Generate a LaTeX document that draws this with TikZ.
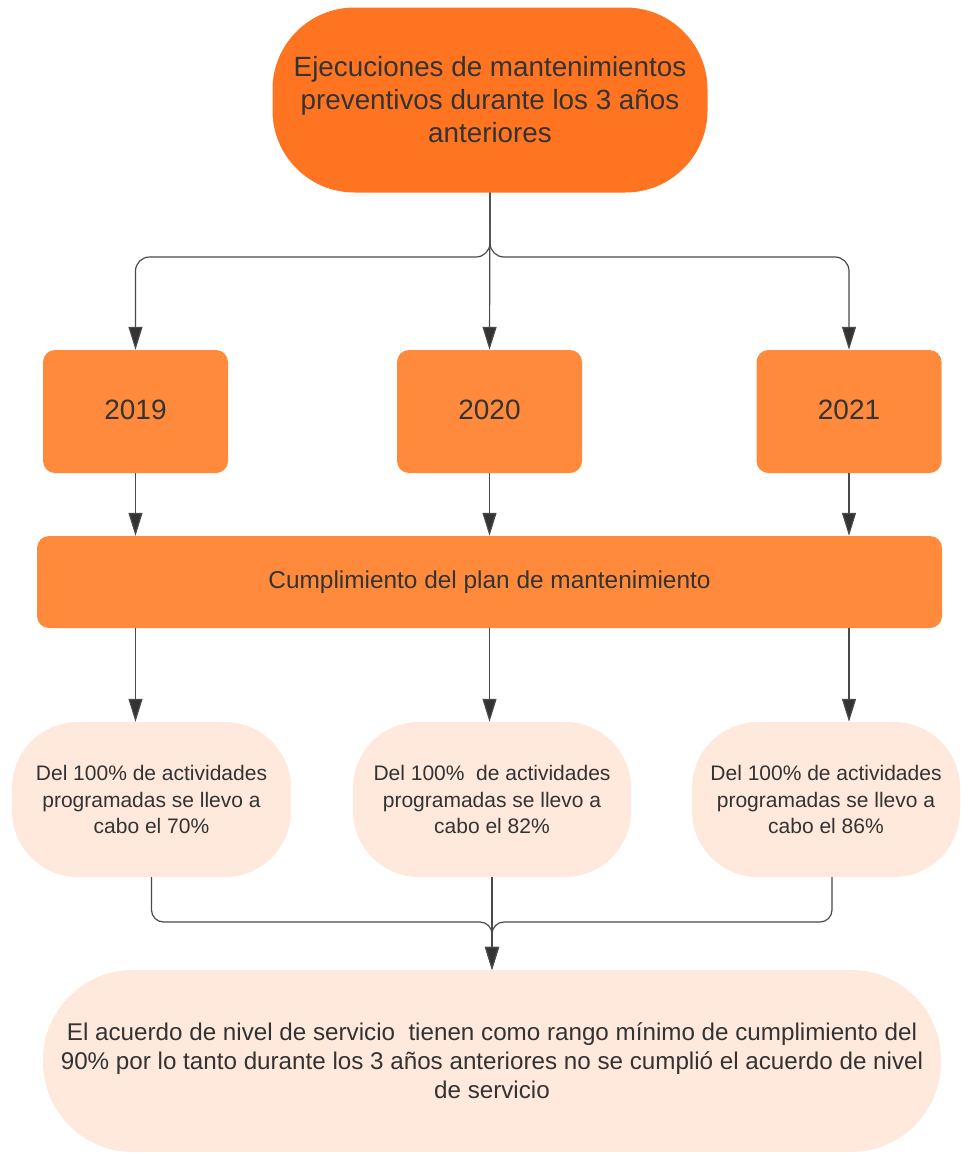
\documentclass[tikz,border=0pt]{standalone}
\usepackage{fontspec}
\setmainfont{Liberation Sans}
\usetikzlibrary{arrows.meta}
\definecolor{deeporange}{HTML}{FF7421}
\definecolor{softorange}{HTML}{FF8A3B}
\definecolor{peach}{HTML}{FEE9DC}
\definecolor{ink}{HTML}{333333}
\definecolor{wire}{HTML}{4A4A4A}
\tikzstyle{base}=[inner sep=0pt, text=ink, align=center]
\tikzstyle{start}=[base, fill=deeporange, rounded corners=82pt, minimum width=435pt, minimum height=185pt, font=\fontsize{27.8}{33}\selectfont]
\tikzstyle{year}=[base, fill=softorange, rounded corners=12pt, minimum width=185pt, minimum height=123pt, font=\fontsize{28}{34}\selectfont]
\tikzstyle{plan}=[base, fill=softorange, rounded corners=12pt, minimum width=905pt, minimum height=92pt, font=\fontsize{24.4}{28}\selectfont]
\tikzstyle{share}=[base, fill=peach, rounded corners=66pt, minimum height=155pt, font=\fontsize{21}{26.5}\selectfont]
\tikzstyle{result}=[base, fill=peach, rounded corners=90pt, minimum width=898pt, minimum height=182pt, font=\fontsize{24.2}{29}\selectfont]
\tikzstyle{link}=[draw=wire, line width=1.2pt, -{Triangle[length=23pt, width=14pt, fill=ink]}]

\begin{document}
\begin{tikzpicture}[x=1pt, y=-1pt]
    \useasboundingbox (0,0) rectangle (961,1154);
    \node[start] (start) at (490,100) {Ejecuciones de mantenimientos\\preventivos durante los 3 años\\anteriores};
    \node[year] (Y19) at (135.5,411.5) {\raisebox{4pt}{2019}};
    \node[year] (Y20) at (489.5,411.5) {\raisebox{4pt}{2020}};
    \node[year] (Y21) at (849,411.5) {\raisebox{4pt}{2021}};
    \node[plan] (plan) at (489.5,582) {Cumplimiento del plan de mantenimiento};
    \node[share, minimum width=279pt] (P19) at (151.5,799.5) {Del 100\% de actividades\\programadas se llevo a\\cabo el 70\%};
    \node[share, minimum width=278pt] (P20) at (492,799.5) {Del 100\%\ \ de actividades\\programadas se llevo a\\cabo el 82\%};
    \node[share, minimum width=268pt] (P21) at (826,799.5) {Del 100\% de actividades\\programadas se llevo a\\cabo el 86\%};
    \node[result] (res) at (492,1061) {El acuerdo de nivel de servicio\ \ tienen como rango mínimo de cumplimiento del\\90\% por lo tanto durante los 3 años anteriores no se cumplió el acuerdo de nivel\\de servicio};
    \coordinate (split) at (490,257);
    \coordinate (merge) at (492,922);
    % top fork
    \draw[link, rounded corners=14pt] (start.south) -- (split) -| (Y19.north);
    \draw[link] (start.south) -- (Y20.north);
    \draw[link, rounded corners=14pt] (start.south) -- (split) -| (Y21.north);
    % years into the plan, plan into the shares
    \draw[link] (Y19.south) -- (Y19.south |- plan.north);
    \draw[link] (Y20.south) -- (Y20.south |- plan.north);
    \draw[link] (Y21.south) -- (Y21.south |- plan.north);
    \draw[link] (plan.south -| Y19) -- (P19.north -| Y19);
    \draw[link] (plan.south -| Y20) -- (P20.north -| Y20);
    \draw[link] (plan.south -| Y21) -- (P21.north -| Y21);
    % bottom merge
    \draw[link, rounded corners=12pt] (P19.south) |- (merge) -- (res.north);
    \draw[link] (P20.south) -- (res.north);
    \draw[link, rounded corners=12pt] ([xshift=6pt]P21.south) |- (merge) -- (res.north);
\end{tikzpicture}
\end{document}
